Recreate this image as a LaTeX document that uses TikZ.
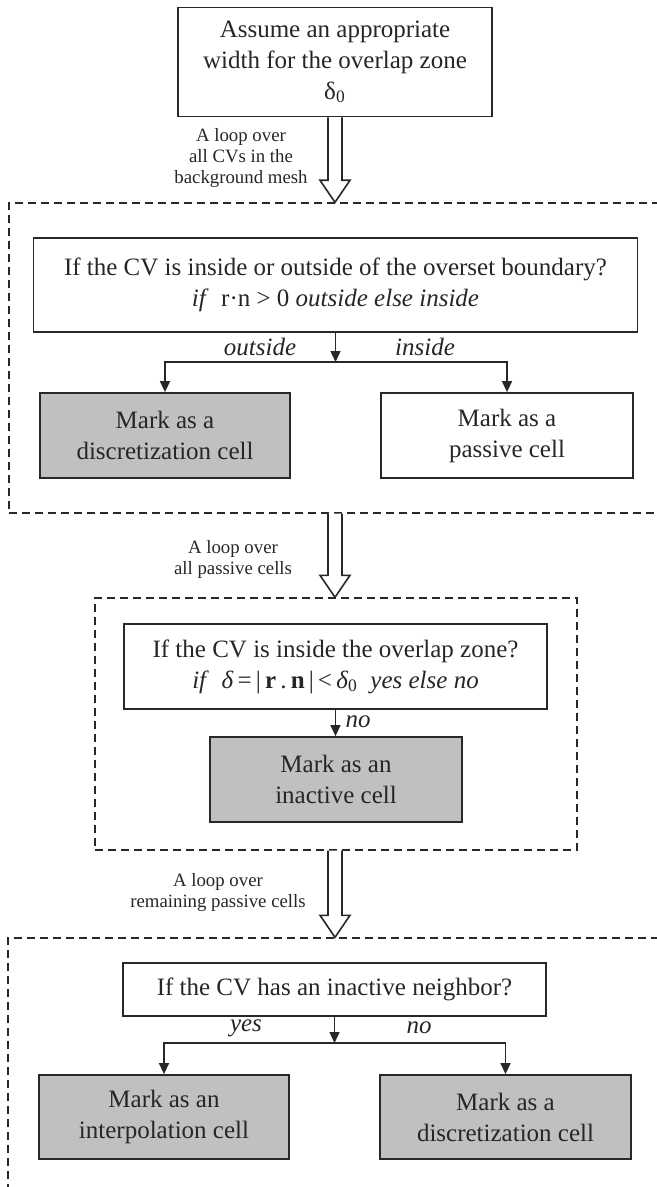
\documentclass[tikz,border=0pt]{standalone}
\usepackage{fontspec}
\setmainfont{Liberation Serif}
\usetikzlibrary{arrows.meta,calc}
\definecolor{line}{RGB}{40,40,40}
\definecolor{cellgray}{RGB}{192,192,194}

\newcommand{\hollowarrow}[2]{%
  \path (#1) coordinate (ha) (#2) coordinate (hb);
  \draw[hollow] ($(ha)+(-7,0)$) -- ($(hb)+(-7,-22)$) -- ++(-8,0) -- (hb)
    -- ++(15,-22) -- ++(-8,0) -- ($(ha)+(7,0)$);
}

\begin{document}
\begin{tikzpicture}[
        x={(0.5pt,0pt)},
        y={(0pt,-0.5pt)},
        box/.style={rectangle, draw=line, line width=0.9pt, align=center, inner sep=0pt, text=black!85, font=\fontsize{12.5}{15.5}\selectfont},
        cell/.style={box, fill=cellgray},
        zone/.style={rectangle, draw=line, line width=0.7pt, dash pattern=on 4pt off 2.5pt, inner sep=0pt},
        flow/.style={-{Triangle[length=5.5pt,width=5pt]}, line width=0.7pt, line},
        hollow/.style={draw=line, line width=0.8pt, fill=white, line join=miter},
        loop/.style={align=center, text=black!85, font=\fontsize{9.4}{10.5}\selectfont},
        branch/.style={text=black!85, font=\fontsize{12.5}{15}\selectfont\itshape},
        ]
        \useasboundingbox (0,0) rectangle (657,1187);
        \clip (0,0) rectangle (657,1187);

        % dashed zones
        \node(zone1)[zone, minimum width=335.5pt, minimum height=155pt] at (344.5,358){};
        \node(zone2)[zone, minimum width=241pt, minimum height=126pt] at (336,724){};
        \node(zone3)[zone, minimum width=336pt, minimum height=141pt] at (344,1079){};

        % boxes
        \node(assume)[box, minimum width=157pt, minimum height=54.5pt] at (335,62)
          {Assume an appropriate\\width for the overlap zone\\δ\textsubscript{0}};
        \node(cond1)[box, minimum width=302pt, minimum height=47pt] at (335.5,285)
          {If the CV is inside or outside of the overset boundary?\\
           \textit{if}\ \ r·n > 0 \textit{outside else inside}};
        \node(disc1)[cell, minimum width=125pt, minimum height=42.5pt] at (165,435.5)
          {Mark as a\\discretization cell};
        \node(pass)[box, minimum width=126pt, minimum height=42.5pt] at (507,435.5)
          {Mark as a\\passive cell};
        \node(cond2)[box, minimum width=211.5pt, minimum height=42.5pt] at (335.5,666.5)
          {If the CV is inside the overlap zone?\\
           \textit{if}\ \ \textit{δ}\,=\,|\,\textbf{r}\,.\,\textbf{n}\,|\,<\,\textit{δ}\textsubscript{0}\ \ \textit{yes else no}};
        \node(inact)[cell, minimum width=126pt, minimum height=42.5pt] at (336,779.5)
          {Mark as an\\inactive cell};
        \node(cond3)[box, minimum width=211.5pt, minimum height=26.5pt] at (334.5,989.5)
          {If the CV has an inactive neighbor?};
        \node(interp)[cell, minimum width=125pt, minimum height=42pt] at (164,1117)
          {Mark as an\\interpolation cell};
        \node(disc2)[cell, minimum width=125.5pt, minimum height=42pt] at (505.5,1117)
          {Mark as a\\discretization cell};

        % loop labels
        \node(loop1)[loop] at (241,158) {A loop over\\all CVs in the\\background mesh};
        \node(loop2)[loop] at (233,559) {A loop over\\all passive cells};
        \node(loop3)[loop] at (218,892) {A loop over\\remaining passive cells};

        % hollow arrows
        \hollowarrow{assume.south}{assume.south |- zone1.north}
        \hollowarrow{assume.south |- zone1.south}{assume.south |- zone2.north}
        \hollowarrow{assume.south |- zone2.south}{assume.south |- zone3.north}

        % branches
        \coordinate(j1) at (336,362);
        \coordinate(j2) at (335,1043);
        \draw[flow](cond1.south)--(cond1.south |- j1);
        \draw[flow](j1)-|(disc1.north);
        \draw[flow](j1)-|(pass.north);
        \draw[flow](cond2.south)--(cond2.south |- inact.north);
        \draw[flow](cond3.south)--(cond3.south |- j2);
        \draw[flow](j2)-|(interp.north);
        \draw[flow](j2)-|(disc2.north);

        \node(out1)[branch] at (260,347) {outside};
        \node(in1)[branch] at (425,347) {inside};
        \node(no1)[branch] at (358,722) {no};
        \node(yes3)[branch] at (246,1028) {yes};
        \node(no3)[branch] at (419,1028) {no};

      \end{tikzpicture}
\end{document}
